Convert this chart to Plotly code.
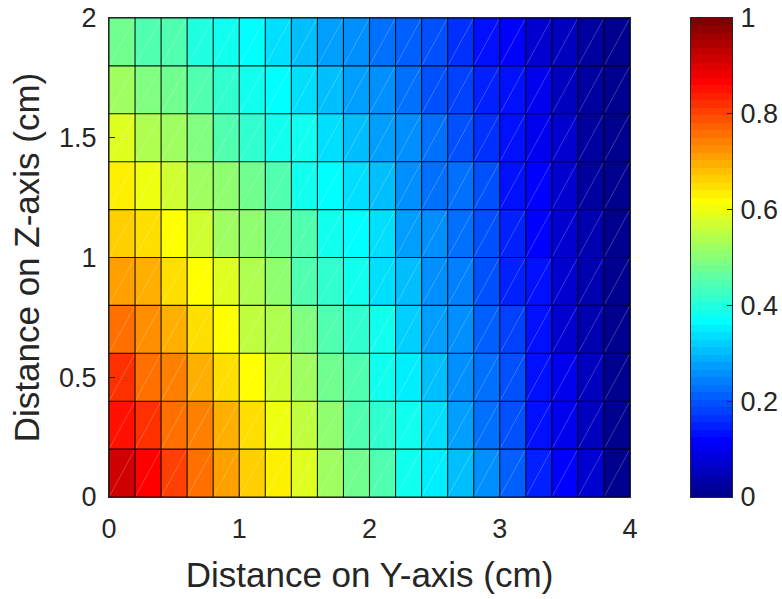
import numpy as np
import plotly.graph_objects as go

# Cell grid: 20 columns along Y (0..4 cm), 10 rows along Z (0..2 cm)
y_edges = [round(0.2 * i, 1) for i in range(21)]
z_edges = [round(0.2 * i, 1) for i in range(11)]

# Normalised values, one list per row from Z = 0 (bottom) upward
row_z0 = [0.91, 0.86, 0.81, 0.765, 0.718, 0.671, 0.625, 0.58, 0.53, 0.469, 0.4375, 0.39, 0.345, 0.297, 0.25, 0.21, 0.156, 0.11, 0.0625, 0.01]
row_z1 = [0.859, 0.8125, 0.765, 0.74, 0.6875, 0.656, 0.595, 0.547, 0.5, 0.453, 0.42, 0.375, 0.33, 0.274, 0.234, 0.1875, 0.14, 0.094, 0.047, 0.005]
row_z2 = [0.8125, 0.765, 0.735, 0.7, 0.65, 0.61, 0.5625, 0.516, 0.469, 0.4375, 0.39, 0.345, 0.31, 0.265, 0.227, 0.1875, 0.14, 0.094, 0.047, 0.005]
row_z3 = [0.765, 0.73, 0.7, 0.656, 0.61, 0.547, 0.532, 0.485, 0.453, 0.42, 0.375, 0.32, 0.28, 0.25, 0.21, 0.172, 0.125, 0.078, 0.039, 0.005]
row_z4 = [0.718, 0.6875, 0.65, 0.61, 0.579, 0.532, 0.5, 0.453, 0.42, 0.39, 0.34, 0.305, 0.26, 0.242, 0.203, 0.156, 0.125, 0.07, 0.039, 0.005]
row_z5 = [0.671, 0.65, 0.61, 0.57, 0.53, 0.5, 0.47, 0.4375, 0.39, 0.36, 0.34, 0.28, 0.25, 0.227, 0.1875, 0.148, 0.117, 0.07, 0.039, 0.005]
row_z6 = [0.625, 0.595, 0.5625, 0.53, 0.5, 0.47, 0.4375, 0.39, 0.36, 0.33, 0.297, 0.265, 0.234, 0.219, 0.1875, 0.14, 0.11, 0.0625, 0.03, 0.005]
row_z7 = [0.58, 0.54, 0.516, 0.485, 0.453, 0.42, 0.39, 0.375, 0.34, 0.31, 0.28, 0.25, 0.227, 0.203, 0.164, 0.133, 0.1, 0.0625, 0.023, 0.005]
row_z8 = [0.53, 0.485, 0.47, 0.453, 0.42, 0.39, 0.36, 0.34, 0.305, 0.28, 0.25, 0.234, 0.203, 0.172, 0.148, 0.125, 0.094, 0.055, 0.023, 0.005]
row_z9 = [0.47, 0.453, 0.4375, 0.406, 0.39, 0.36, 0.33, 0.31, 0.28, 0.265, 0.234, 0.21, 0.19, 0.164, 0.14, 0.11, 0.078, 0.047, 0.016, 0.005]

values = [row_z0, row_z1, row_z2, row_z3, row_z4, row_z5, row_z6, row_z7, row_z8, row_z9]

x_ticks = [0, 1, 2, 3, 4]
y_ticks = [0, 0.5, 1, 1.5, 2]
y_tick_text = ["0", "0.5", "1", "1.5", "2"]
cb_ticks = [0, 0.2, 0.4, 0.6, 0.8, 1]
cb_tick_text = ["0", "0.2", "0.4", "0.6", "0.8", "1"]

N_LEVELS = 64


def jet(m=N_LEVELS):
    """Classic jet colormap with m levels."""
    n = int(np.ceil(m / 4))
    u = np.concatenate([np.arange(1, n + 1) / n, np.ones(n - 1), np.arange(n, 0, -1) / n])
    g = int(np.ceil(n / 2)) - (1 if m % 4 == 1 else 0) + np.arange(1, len(u) + 1)
    r = g + n
    b = g - n
    cmap = np.zeros((m, 3))
    for idx, ch in ((r, 0), (g, 1), (b, 2)):
        keep = (idx >= 1) & (idx <= m)
        cmap[idx[keep] - 1, ch] = u[keep]
    return cmap


cmap = jet()
colorscale = []
for k, c in enumerate(cmap):
    col = "rgb({},{},{})".format(*(int(round(v * 255)) for v in c))
    colorscale.append([k / N_LEVELS, col])
    colorscale.append([(k + 1) / N_LEVELS, col])

# Colour-bar strip: one band per colormap level
cb_edges = [k / N_LEVELS for k in range(N_LEVELS + 1)]
cb_levels = [[(k + 0.5) / N_LEVELS] for k in range(N_LEVELS)]

font_family = "Liberation Sans, Arial, Helvetica, sans-serif"
ink = "#262626"
tick_size = 27
title_size = 35

W, H = 782, 599
ML, MR, MT, MB = 109, 40, 18, 102
plot_w = W - ML - MR
main_right = 630
cb_left, cb_right = 691, 732

fig = go.Figure()
fig.add_trace(go.Heatmap(
    x=y_edges, y=z_edges, z=values,
    zmin=0, zmax=1, colorscale=colorscale,
    showscale=False, hoverinfo="skip",
))

# Faint triangle edges across each cell
dx, dy = [], []
for j in range(len(z_edges) - 1):
    for i in range(len(y_edges) - 1):
        dx += [y_edges[i], y_edges[i + 1], None]
        dy += [z_edges[j], z_edges[j + 1], None]
fig.add_trace(go.Scatter(
    x=dx, y=dy, mode="lines",
    line=dict(color="rgba(255,255,255,0.28)", width=0.8),
    hoverinfo="skip", showlegend=False,
))

# Black cell edges
gx, gy = [], []
for xe in y_edges:
    gx += [xe, xe, None]
    gy += [z_edges[0], z_edges[-1], None]
for ze in z_edges:
    gx += [y_edges[0], y_edges[-1], None]
    gy += [ze, ze, None]
fig.add_trace(go.Scatter(
    x=gx, y=gy, mode="lines",
    line=dict(color="rgba(0,0,0,0.9)", width=1.1),
    hoverinfo="skip", showlegend=False,
))

# Colour bar drawn on its own axes
fig.add_trace(go.Heatmap(
    x=[0, 1], y=cb_edges, z=cb_levels,
    zmin=0, zmax=1, colorscale=colorscale, showscale=False,
    xaxis="x2", yaxis="y2", hoverinfo="skip",
))

axis_common = dict(
    automargin=False,
    showgrid=False, zeroline=False,
    showline=True, linecolor=ink, linewidth=1, mirror=True,
    ticks="inside", ticklen=6, tickcolor=ink,
    tickfont=dict(family=font_family, size=tick_size, color=ink),
)

fig.update_layout(
    width=W, height=H,
    margin=dict(l=ML, r=MR, t=MT, b=MB, autoexpand=False),
    paper_bgcolor="white", plot_bgcolor="white",
    showlegend=False,
    xaxis=dict(
        domain=[0, (main_right - ML) / plot_w],
        range=[0, 4], tickvals=x_ticks, ticktext=[str(t) for t in x_ticks],
        title=dict(text="Distance on Y-axis (cm)", font=dict(family=font_family, size=title_size, color=ink), standoff=19),
        ticklabelstandoff=8,
        **axis_common,
    ),
    yaxis=dict(
        range=[0, 2], tickvals=y_ticks, ticktext=y_tick_text,
        title=dict(text="Distance on Z-axis (cm)", font=dict(family=font_family, size=title_size, color=ink), standoff=8),
        ticklabelstandoff=6,
        **axis_common,
    ),
    xaxis2=dict(
        automargin=False,
        domain=[(cb_left - ML) / plot_w, (cb_right - ML) / plot_w],
        anchor="y2", range=[0, 1],
        showgrid=False, zeroline=False, showticklabels=False, ticks="",
        showline=True, linecolor=ink, linewidth=1, mirror=True,
    ),
    yaxis2=dict(
        automargin=False,
        anchor="x2", side="right", range=[0, 1],
        tickvals=cb_ticks, ticktext=cb_tick_text,
        showgrid=False, zeroline=False,
        showline=True, linecolor=ink, linewidth=1, mirror=True,
        ticks="inside", ticklen=5, tickcolor=ink,
        ticklabelstandoff=2,
        tickfont=dict(family=font_family, size=tick_size, color=ink),
    ),
)

fig.write_html("out.html")
